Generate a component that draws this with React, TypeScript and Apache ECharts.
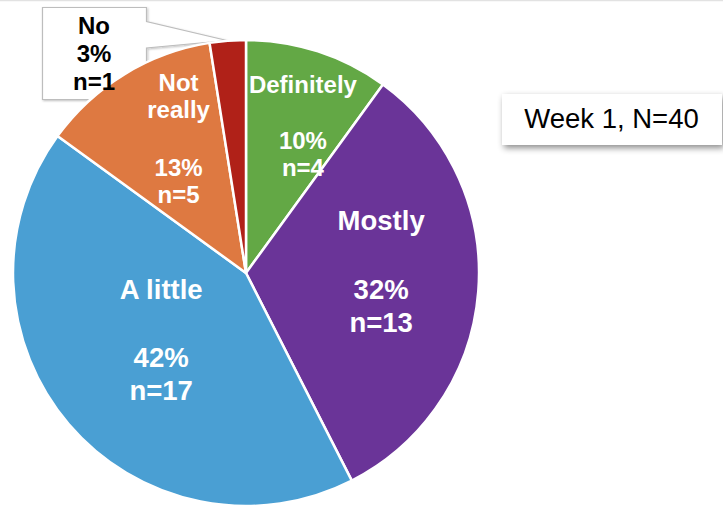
import React, { useEffect, useRef } from 'react';
import * as echarts from 'echarts';

// ---- data ----
const categories = ['Definitely', 'Mostly', 'A little', 'Not really', 'No'];
const counts = [4, 13, 17, 5, 1];
const percentLabels = ['10%', '32%', '42%', '13%', '3%'];
const titleText = 'Week 1, N=40';

// ---- styling (kept separate from data) ----
const sliceColors = ['#63A845', '#6A3498', '#4A9FD3', '#DE7941', '#B02118'];
const nameLines = [['Definitely'], ['Mostly'], ['A little'], ['Not', 'really'], ['No']];
const labelFont = [24, 27.5, 27.5, 24, 24];
const labelLineH = [27, 32.8, 33.3, 27, 28];
const labelGap = [29, 37, 34.2, 31, 0];
const labelColor = ['#ffffff', '#ffffff', '#ffffff', '#ffffff', '#000000'];
const labelShift = [
  [20, -33],
  [16, -11],
  [6, -10.5],
  [-5, -33],
  [-142.6, -100],
];

const FONT = '"Liberation Sans", Arial, sans-serif';

export default function App() {
  const ref = useRef<HTMLDivElement>(null);

  useEffect(() => {
    if (!ref.current) return;
    const chart = echarts.init(ref.current, null, { renderer: 'svg' });

    const data = categories.map((name, i) => {
      const lines: string[] = nameLines[i].map((l) => `{t|${l}}`);
      if (labelGap[i] > 0) lines.push('{g| }');
      lines.push(`{t|${percentLabels[i]}}`);
      lines.push(`{t|n=${counts[i]}}`);
      const text = lines.join('\n');
      return {
        name,
        value: counts[i],
        itemStyle: { color: sliceColors[i] },
        label: {
          show: true,
          position: 'inside',
          formatter: () => text,
          rich: {
            t: {
              fontFamily: FONT,
              fontSize: labelFont[i],
              fontWeight: 'bold',
              lineHeight: labelLineH[i],
              color: labelColor[i],
              align: 'center',
            },
            g: {
              fontFamily: FONT,
              fontSize: 10,
              lineHeight: labelGap[i] || 1,
              color: labelColor[i],
              align: 'center',
            },
          },
        },
      };
    });

    chart.setOption({
      animation: false,
      backgroundColor: '#ffffff',
      graphic: [
        {
          type: 'line',
          z: 0,
          shape: { x1: 0, y1: 0.5, x2: 723, y2: 0.5 },
          style: { stroke: '#e2e2e2', lineWidth: 1.5 },
        },
        {
          type: 'polygon',
          z: 1,
          shape: {
            points: [
              [42.5, 7.5],
              [146.5, 7.5],
              [146.5, 21.5],
              [227, 40.5],
              [146.5, 48],
              [146.5, 99.5],
              [42.5, 99.5],
            ],
          },
          style: {
            fill: '#ffffff',
            stroke: '#bdbdbd',
            lineWidth: 1.2,
            shadowBlur: 2,
            shadowOffsetX: 1,
            shadowOffsetY: 1,
            shadowColor: 'rgba(0,0,0,0.25)',
          },
        },
        {
          type: 'rect',
          z: 1,
          shape: { x: 502, y: 94, width: 220, height: 51 },
          style: {
            fill: '#ffffff',
            shadowBlur: 6,
            shadowOffsetX: 2,
            shadowOffsetY: 3,
            shadowColor: 'rgba(0,0,0,0.45)',
          },
        },
        {
          type: 'text',
          z: 2,
          x: 611.5,
          y: 118,
          style: {
            text: titleText,
            font: `27.5px ${FONT}`,
            fill: '#000000',
            align: 'center',
            verticalAlign: 'middle',
          },
        },
      ],
      series: [
        {
          type: 'pie',
          center: [246, 273],
          radius: 233,
          startAngle: 90,
          clockwise: true,
          avoidLabelOverlap: false,
          minShowLabelAngle: 0,
          labelLine: { show: false },
          emphasis: { disabled: true },
          itemStyle: { borderColor: '#ffffff', borderWidth: 2.5 },
          labelLayout: (params: any) => {
            const s = labelShift[params.dataIndex];
            return { dx: s[0], dy: s[1] };
          },
          data,
        },
      ],
    });

    return () => chart.dispose();
  }, []);

  return (
    <div
      ref={ref}
      style={{ position: 'fixed', left: 0, top: 0, width: 723, height: 507 }}
    />
  );
}
